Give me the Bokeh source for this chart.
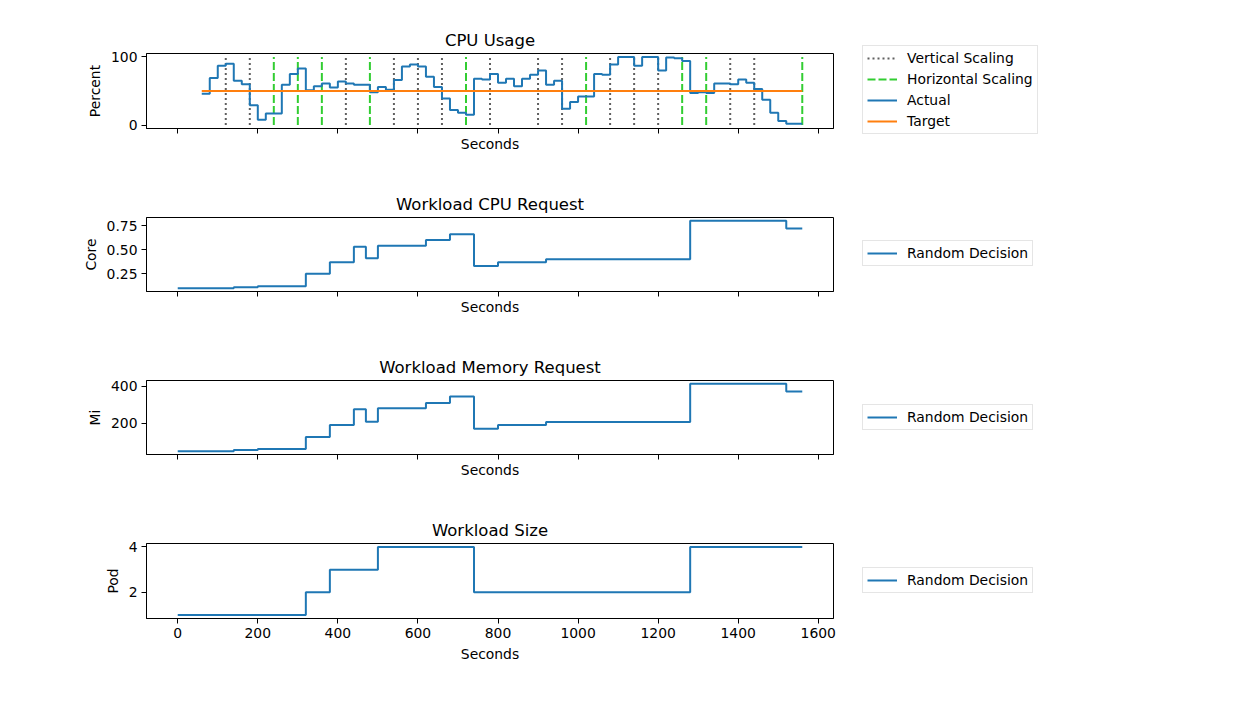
from bokeh.plotting import figure
from bokeh.layouts import column, row
from bokeh.models import Range1d, FixedTicker, Legend, LegendItem, CustomLabelingPolicy
from bokeh.embed import file_html
from bokeh.resources import INLINE

FONT = "DejaVu Sans"

# ---------------- data ----------------
# CPU usage (percent), sampled every 20 s from 60 s to 1560 s
cpu_time = list(range(60, 1561, 20))
cpu_actual = [
    46, 69, 87, 90, 65, 60, 29, 8, 17, 17,          # 60-240
    59, 75, 83, 51, 57, 61, 55, 64, 61, 59,         # 260-440
    59, 48, 56, 52, 66, 86, 89, 86, 71, 56,         # 460-640
    39, 22, 18, 15, 68, 67, 75, 62, 68, 57,         # 660-840
    68, 74, 80, 59, 65, 24, 34, 42, 42, 75,         # 860-1040
    74, 89, 100, 100, 87, 100, 100, 80, 99, 98,     # 1060-1240
    94, 47, 48, 47, 61, 61, 60, 67, 62, 53,         # 1260-1440
    37, 18, 6, 2, 2, 2,                             # 1460-1560
]
target_time = [60, 1560]
target_value = [50, 50]
vertical_scaling_times = [120, 180, 420, 540, 600, 660, 780, 900, 960, 1080, 1140, 1200, 1380, 1440]
horizontal_scaling_times = [240, 300, 360, 480, 720, 1020, 1260, 1320, 1560]
scaling_line_low, scaling_line_high = 0, 100

# Random decision: change points (s) and values
req_time = [0, 140, 200, 320, 380, 440, 470, 500, 620, 680, 740, 800, 920, 1280, 1520, 1560]
cpu_request = [0.10, 0.11, 0.12, 0.25, 0.37, 0.53, 0.41, 0.54, 0.60, 0.66, 0.33, 0.37, 0.40, 0.80, 0.72, 0.72]
mem_request = [50, 56, 61, 127, 191, 276, 209, 282, 311, 346, 171, 191, 207, 414, 373, 373]
size_time = [0, 320, 380, 500, 740, 1280, 1560]
workload_size = [1, 2, 3, 4, 2, 4, 4]

x_ticks = [0, 200, 400, 600, 800, 1000, 1200, 1400, 1600]

BLUE = "#1f77b4"
ORANGE = "#ff7f0e"
GREY = "#606060"
GREEN = "#32cd32"

MAIN_W = 838
LEG_W = 1242 - MAIN_W
TOTAL_H = 703

xr = Range1d(-78, 1638)


def make_fig(height, top, bottom, title, ylabel, yr, yticks, show_xlabels, overrides=None):
    p = figure(width=MAIN_W, height=height, x_range=xr, y_range=Range1d(*yr),
               output_backend="svg", toolbar_location=None,
               min_border_left=146, min_border_right=MAIN_W - 833,
               min_border_top=top, min_border_bottom=bottom)
    p.background_fill_color = "white"
    p.border_fill_color = "white"
    p.outline_line_color = "black"
    p.outline_line_width = 1
    p.outline_line_alpha = 1
    p.xgrid.visible = False
    p.ygrid.visible = False
    p.title.text = title
    p.title.align = "center"
    p.title.text_font = FONT
    p.title.text_font_size = "16.5px"
    p.title.text_font_style = "normal"
    p.title.text_color = "black"
    p.title.standoff = 7
    for ax in (p.xaxis[0], p.yaxis[0]):
        ax.axis_line_color = "black"
        ax.major_tick_line_color = "black"
        ax.major_tick_out = 5
        ax.major_tick_in = 0
        ax.minor_tick_line_color = None
        ax.major_label_text_font = FONT
        ax.major_label_text_font_size = "13.9px"
        ax.major_label_text_color = "black"
        ax.axis_label_text_font = FONT
        ax.axis_label_text_font_size = "13.9px"
        ax.axis_label_text_font_style = "normal"
        ax.axis_label_text_color = "black"
        ax.major_label_standoff = 4
        ax.axis_label_standoff = 5
    p.xaxis.ticker = FixedTicker(ticks=x_ticks)
    p.yaxis.ticker = FixedTicker(ticks=yticks)
    if overrides:
        p.yaxis.major_label_overrides = overrides
    p.xaxis.axis_label = "Seconds"
    p.yaxis.axis_label = ylabel
    if not show_xlabels:
        # shared x axis: tick marks only, no tick labels
        p.xaxis.major_label_text_font_size = "0px"
        p.xaxis.major_label_standoff = 0
        p.xaxis.axis_label_standoff = 2
        p.xaxis.major_label_policy = CustomLabelingPolicy(code="return new Set()")
    return p


vs_style = dict(line_color=GREY, line_width=2, line_dash="2 3")
hs_style = dict(line_color=GREEN, line_width=2, line_dash="8 3")
act_style = dict(line_color=BLUE, line_width=2)
tgt_style = dict(line_color=ORANGE, line_width=2)


def draw_vlines(fig, times, style):
    n = len(times)
    return fig.segment(x0=times, y0=[scaling_line_low] * n, x1=times, y1=[scaling_line_high] * n, **style)


# Panel 1: CPU usage
p1 = make_fig(175, 53, 47, "CPU Usage", "Percent", (-5, 105), [0, 100], False)
draw_vlines(p1, vertical_scaling_times, vs_style)
draw_vlines(p1, horizontal_scaling_times, hs_style)
p1.step(cpu_time, cpu_actual, mode="after", **act_style)
p1.line(target_time, target_value, **tgt_style)

# Panel 2: CPU request
p2 = make_fig(165, 42, 49, "Workload CPU Request", "Core", (0.065, 0.835), [0.25, 0.5, 0.75], False,
              {0.25: "0.25", 0.5: "0.50", 0.75: "0.75"})
p2.step(req_time, cpu_request, mode="after", **act_style)

# Panel 3: memory request
p3 = make_fig(163, 40, 49, "Workload Memory Request", "Mi", (31.8, 432.2), [200, 400], False)
p3.step(req_time, mem_request, mode="after", **act_style)

# Panel 4: workload size
p4 = make_fig(200, 40, 85, "Workload Size", "Pod", (0.85, 4.15), [2, 4], True)
p4.step(size_time, workload_size, mode="after", **act_style)

# One blank, full-height figure on the right that holds the four legends.
# Its renderers repeat the series but its ranges lie entirely before t=0,
# so only their legend swatches show.
lf = figure(width=LEG_W, height=TOTAL_H, x_range=Range1d(-5000, -4000), y_range=Range1d(-5000, -4000),
            output_backend="svg", toolbar_location=None,
            x_axis_type=None, y_axis_type=None,
            min_border_left=0, min_border_right=0, min_border_top=0, min_border_bottom=0)
lf.outline_line_color = None
lf.xgrid.visible = False
lf.ygrid.visible = False
lf.background_fill_color = "white"
lf.border_fill_color = "white"


def add_legend(items, bottom_px):
    lg = Legend(items=items)
    lg.location = (862 - MAIN_W, TOTAL_H - bottom_px)
    lg.label_text_font = FONT
    lg.label_text_font_size = "13.9px"
    lg.label_text_color = "black"
    lg.glyph_width = 30
    lg.glyph_height = 14
    lg.label_height = 14
    lg.label_standoff = 10
    lg.spacing = 5
    lg.padding = 4
    lg.margin = 0
    lg.border_line_color = "#cccccc"
    lg.border_line_width = 1
    lg.background_fill_color = "white"
    lg.background_fill_alpha = 0.8
    lf.add_layout(lg)


lv = draw_vlines(lf, vertical_scaling_times, vs_style)
lh = draw_vlines(lf, horizontal_scaling_times, hs_style)
la = lf.step(cpu_time, cpu_actual, mode="after", **act_style)
lt = lf.line(target_time, target_value, **tgt_style)
l2 = lf.step(req_time, cpu_request, mode="after", **act_style)
l3 = lf.step(req_time, mem_request, mode="after", **act_style)
l4 = lf.step(size_time, workload_size, mode="after", **act_style)

add_legend([LegendItem(label="Vertical Scaling", renderers=[lv]),
            LegendItem(label="Horizontal Scaling", renderers=[lh]),
            LegendItem(label="Actual", renderers=[la]),
            LegendItem(label="Target", renderers=[lt])], 134)
add_legend([LegendItem(label="Random Decision", renderers=[l2])], 266)
add_legend([LegendItem(label="Random Decision", renderers=[l3])], 430)
add_legend([LegendItem(label="Random Decision", renderers=[l4])], 593)

layout = row(column(p1, p2, p3, p4, spacing=0), lf, spacing=0)
open("out.html", "w").write(file_html(layout, INLINE))
